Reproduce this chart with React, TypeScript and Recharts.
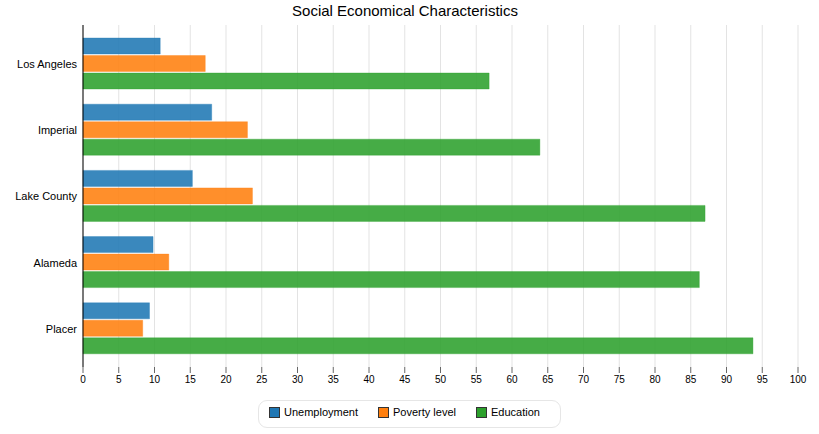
import React from 'react';
import { BarChart, Bar, XAxis, YAxis, CartesianGrid } from 'recharts';

const categories = ['Los Angeles', 'Imperial', 'Lake County', 'Alameda', 'Placer'];
const unemployment = [10.8, 18.0, 15.3, 9.8, 9.3];
const poverty = [17.1, 23.0, 23.7, 12.0, 8.35];
const education = [56.8, 63.9, 87.0, 86.2, 93.7];
const xTicks = [0, 5, 10, 15, 20, 25, 30, 35, 40, 45, 50, 55, 60, 65, 70, 75, 80, 85, 90, 95, 100];

const seriesNames = ['Unemployment', 'Poverty level', 'Education'];
const seriesKeys = ['unemployment', 'poverty', 'education'];
const seriesColors = ['#1f77b4', '#ff7f0e', '#2ca02c'];

const data = categories.map((c, i) => ({
  name: c,
  unemployment: unemployment[i],
  poverty: poverty[i],
  education: education[i],
}));

const FONT = '"Liberation Sans", Arial, sans-serif';

const YTick = (props: any) => {
  const { x, y, payload } = props;
  return (
    <text x={x} y={y} dy="0.355em" textAnchor="end" fontSize={11} fill="#000" fontFamily={FONT}>
      {payload.value}
    </text>
  );
};

export default function App() {
  return (
    <div style={{ position: 'absolute', left: 0, top: 0, width: 819, height: 434, background: '#fff', fontFamily: FONT }}>
      <div
        style={{
          position: 'absolute',
          left: 0,
          top: 2,
          width: 810,
          textAlign: 'center',
          fontSize: 15,
          lineHeight: '18px',
          color: '#000',
        }}
      >
        Social Economical Characteristics
      </div>
      <BarChart
        width={819}
        height={434}
        data={data}
        layout="vertical"
        margin={{ top: 25, right: 21, bottom: 0, left: 0 }}
        barCategoryGap={7}
        barGap={1.5}
      >
        <CartesianGrid horizontal={false} stroke="#e3e3e3" strokeWidth={1} />
        <XAxis
          type="number"
          domain={[0, 100]}
          ticks={xTicks}
          interval={0}
          height={67}
          axisLine={false}
          tickLine={{ stroke: '#666' }}
          tickSize={6}
          tickMargin={3}
          tick={{ fontSize: 10, fill: '#000', fontFamily: FONT }}
        />
        <YAxis
          type="category"
          dataKey="name"
          width={83}
          padding={{ top: 6, bottom: 5 }}
          axisLine={{ stroke: '#000' }}
          tickLine={false}
          tickSize={6}
          tickMargin={0}
          tick={<YTick />}
        />
        {seriesKeys.map((k, i) => (
          <Bar
            key={k}
            dataKey={k}
            name={seriesNames[i]}
            fill={seriesColors[i]}
            fillOpacity={0.88}
            stroke={seriesColors[i]}
            strokeOpacity={0.35}
            strokeWidth={1}
            isAnimationActive={false}
          />
        ))}
      </BarChart>
      <div
        style={{
          position: 'absolute',
          left: 258,
          top: 400,
          width: 303,
          height: 28,
          boxSizing: 'border-box',
          border: '1px solid #e6e6e6',
          borderRadius: 9,
          display: 'flex',
          alignItems: 'center',
          paddingLeft: 10,
          paddingBottom: 4,
          fontSize: 11,
          color: '#000',
        }}
      >
        {seriesNames.map((n, i) => (
          <div key={n} style={{ display: 'flex', alignItems: 'center', marginRight: i < seriesNames.length - 1 ? 20 : 0 }}>
            <div
              style={{
                width: 11,
                height: 11,
                boxSizing: 'border-box',
                border: '1px solid #333',
                background: seriesColors[i],
                marginRight: 4,
              }}
            />
            <span style={{ lineHeight: '14px' }}>{n}</span>
          </div>
        ))}
      </div>
    </div>
  );
}
